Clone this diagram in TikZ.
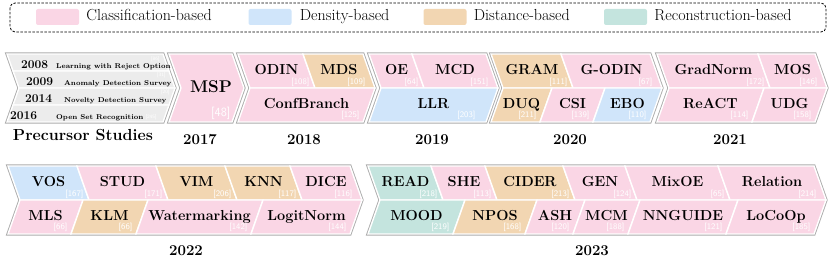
\documentclass[tikz,border=0pt]{standalone}
\usepackage{fontspec}
\usetikzlibrary{positioning}
\definecolor{clsPink}{RGB}{250,214,229}
\definecolor{denBlue}{RGB}{208,229,250}
\definecolor{disTan}{RGB}{242,214,178}
\definecolor{recTeal}{RGB}{196,228,222}
\definecolor{preGray}{RGB}{236,236,236}
\definecolor{rimGray}{RGB}{172,172,172}
\newcommand{\chd}{12}
\newcommand{\chevshape}[2]{%
  \draw[rim] (#1,\yt) -- (#2,\yt) -- ({#2+\chd},\ym) -- (#2,\yb) -- (#1,\yb) -- ({#1+\chd},\ym) -- cycle;
}
\newcommand{\segup}[7][5]{%
  \filldraw[seg, fill=#2] ({#3-\chd},\yt) -- ({#4-\chd},\yt) -- (#4,\ym) -- (#3,\ym) -- cycle;
  \node[lbl] (#5) at ({(#3+#4-\chd)/2},{(\yt+\ym)/2+3.5}) {#6};
  \node[refno, anchor=south east] (#5-r) at ({#4-#1},{\ym-0.8}) {[#7]};
}
\newcommand{\segdown}[7][3]{%
  \filldraw[seg, fill=#2] (#3,\ym) -- (#4,\ym) -- ({#4-\chd},\yb) -- ({#3-\chd},\yb) -- cycle;
  \node[lbl] (#5) at ({(#3+#4-\chd)/2},{(\ym+\yb)/2+3.5}) {#6};
  \node[refno, anchor=south east] (#5-r) at ({#4-\chd-#1},{\yb-1.8}) {[#7]};
}

\begin{document}
\begin{tikzpicture}[x=1pt, y=-1pt,
    rim/.style={draw=rimGray, line width=3.2pt, line join=miter},
    seg/.style={draw=white, line width=1.4pt, line join=miter},
    lbl/.style={font=\fontsize{14.5}{17}\selectfont\bfseries, inner sep=0pt, anchor=base},
    refno/.style={font=\fontsize{8.5}{10}\selectfont\sffamily, text=white, inner sep=0.3pt},
    year/.style={font=\fontsize{15}{18}\selectfont\bfseries, inner sep=0pt, anchor=base},
    pyear/.style={font=\fontsize{12}{14}\selectfont\bfseries, inner sep=0pt, anchor=base west},
    ptitle/.style={font=\fontsize{7}{8}\selectfont\bfseries, inner sep=0pt, anchor=base west},
    prefno/.style={font=\fontsize{5}{6}\selectfont\sffamily, text=white, inner sep=0.2pt},
    swatch/.style={fill=#1, rounded corners=2pt, minimum width=43pt, minimum height=16pt, inner sep=0pt},
    legtext/.style={font=\fontsize{16}{19}\selectfont, inner sep=0pt, text height=11pt, text depth=3pt}]
  \useasboundingbox (0,0) rectangle (830,272);

  \draw[line width=0.8pt, dash pattern=on 2.5pt off 1.5pt, rounded corners=5pt] (10,3) rectangle (826,32);
  \node[swatch=clsPink] (kCls) at (57.5,17) {};
  \node[legtext, right=7pt of kCls] (kClsT) {Classification-based};
  \node[swatch=denBlue] (kDen) at (270,17) {};
  \node[legtext, right=8pt of kDen] (kDenT) {Density-based};
  \node[swatch=disTan] (kDis) at (445,17) {};
  \node[legtext, right=7pt of kDis] (kDisT) {Distance-based};
  \node[swatch=recTeal] (kRec) at (625.5,17) {};
  \node[legtext, right=7pt of kRec] (kRecT) {Reconstruction-based};

  \def\yt{54}\def\ym{88}\def\yb{122}
  \chevshape{7}{163}
  \chevshape{169}{232}
  \chevshape{238}{363}
  \chevshape{369}{486}
  \chevshape{491}{650}
  \chevshape{657}{815}

  \filldraw[seg, fill=preGray] (7,54) -- (163,54) -- (169,71) -- (13,71) -- cycle;
  \filldraw[seg, fill=preGray] (13,71) -- (169,71) -- (175,88) -- (19,88) -- cycle;
  \filldraw[seg, fill=preGray] (19,88) -- (175,88) -- (169,105) -- (13,105) -- cycle;
  \filldraw[seg, fill=preGray] (13,105) -- (169,105) -- (163,122) -- (7,122) -- cycle;
  \node[pyear] (p2008) at (21,68.5) {2008};
  \node[ptitle] (t2008) at (56,68.5) {Learning with Reject Option};
  \node[prefno, anchor=north east] (r2008) at (160,56) {[86]};
  \node[pyear] (p2009) at (26,86) {2009};
  \node[ptitle] (t2009) at (64,86) {Anomaly Detection Survey};
  \node[prefno, anchor=north east] (r2009) at (166,72.5) {[31]};
  \node[pyear] (p2014) at (25,103) {2014};
  \node[ptitle] (t2014) at (64,103) {Novelty Detection Survey};
  \node[prefno, anchor=north east] (r2014) at (170,89.5) {[20]};
  \node[pyear] (p2016) at (10,119.5) {2016};
  \node[ptitle] (t2016) at (56,119.5) {Open Set Recognition};
  \node[prefno, anchor=south east] (r2016) at (157,120) {[245]};

  \filldraw[seg, fill=clsPink] (169,54) -- (232,54) -- (244,88) -- (232,122) -- (169,122) -- (181,88) -- cycle;
  \node[lbl, font=\fontsize{17}{20}\selectfont\bfseries] (msp) at (211,93) {MSP};
  \node[refno, font=\fontsize{12.5}{15}\selectfont\sffamily, anchor=south east] (msp-r) at (231,120) {[48]};

  \segup{clsPink}{250}{315}{odin}{ODIN}{108}
  \segup[9]{disTan}{315}{375}{mds}{MDS}{109}
  \segdown{clsPink}{250}{375}{confbranch}{ConfBranch}{125}

  \segup{clsPink}{381}{424}{oe}{OE}{64}
  \segup[9]{clsPink}{424}{498}{mcd}{MCD}{151}
  \segdown[10]{denBlue}{381}{498}{llr}{LLR}{203}

  \segup{disTan}{503}{573}{gram}{GRAM}{111}
  \segup[9]{clsPink}{573}{662}{godin}{G-ODIN}{67}
  \segdown{disTan}{503}{552}{duq}{DUQ}{211}
  \segdown{clsPink}{552}{605}{csi}{CSI}{139}
  \segdown{denBlue}{605}{662}{ebo}{EBO}{110}

  \segup{clsPink}{669}{770}{gradnorm}{GradNorm}{172}
  \segup[9]{clsPink}{770}{827}{mos}{MOS}{146}
  \segdown{clsPink}{669}{764}{react}{ReACT}{114}
  \segdown{clsPink}{764}{827}{udg}{UDG}{158}

  \node[year, font=\fontsize{16}{19}\selectfont\bfseries] (lPre) at (83,141) {Precursor Studies};
  \node[year] (l2017) at (200,144.5) {2017};
  \node[year] (l2018) at (304,144.5) {2018};
  \node[year] (l2019) at (432,144.5) {2019};
  \node[year] (l2020) at (570,144.5) {2020};
  \node[year] (l2021) at (730,144.5) {2021};

  \def\yt{166}\def\ym{200}\def\yb{234}
  \chevshape{8}{350}
  \chevshape{368}{814}

  \segup{denBlue}{20}{89}{vos}{VOS}{167}
  \segup{clsPink}{89}{168}{stud}{STUD}{171}
  \segup{disTan}{168}{237}{vim}{VIM}{206}
  \segup{disTan}{237}{302}{knn}{KNN}{117}
  \segup[9]{clsPink}{302}{362}{dice}{DICE}{116}
  \segdown{clsPink}{20}{83}{mls}{MLS}{66}
  \segdown{disTan}{83}{148}{klm}{KLM}{66}
  \segdown{clsPink}{148}{263}{watermarking}{Watermarking}{142}
  \segdown{clsPink}{263}{362}{logitnorm}{LogitNorm}{144}

  \segup{recTeal}{380}{443}{read}{READ}{218}
  \segup{clsPink}{443}{497}{she}{SHE}{113}
  \segup{disTan}{497}{575}{cider}{CIDER}{213}
  \segup{clsPink}{575}{637}{gen}{GEN}{124}
  \segup{clsPink}{637}{730}{mixoe}{MixOE}{65}
  \segup[9]{clsPink}{730}{826}{relation}{Relation}{214}
  \segdown{recTeal}{380}{465}{mood}{MOOD}{219}
  \segdown{disTan}{465}{537}{npos}{NPOS}{168}
  \segdown{clsPink}{537}{585}{ash}{ASH}{120}
  \segdown{clsPink}{585}{640}{mcm}{MCM}{188}
  \segdown{clsPink}{640}{738}{nnguide}{NNGUIDE}{121}
  \segdown{clsPink}{738}{826}{locoop}{LoCoOp}{185}

  \node[year] (l2022) at (186,256) {2022};
  \node[year] (l2023) at (592,256) {2023};
\end{tikzpicture}
\end{document}
